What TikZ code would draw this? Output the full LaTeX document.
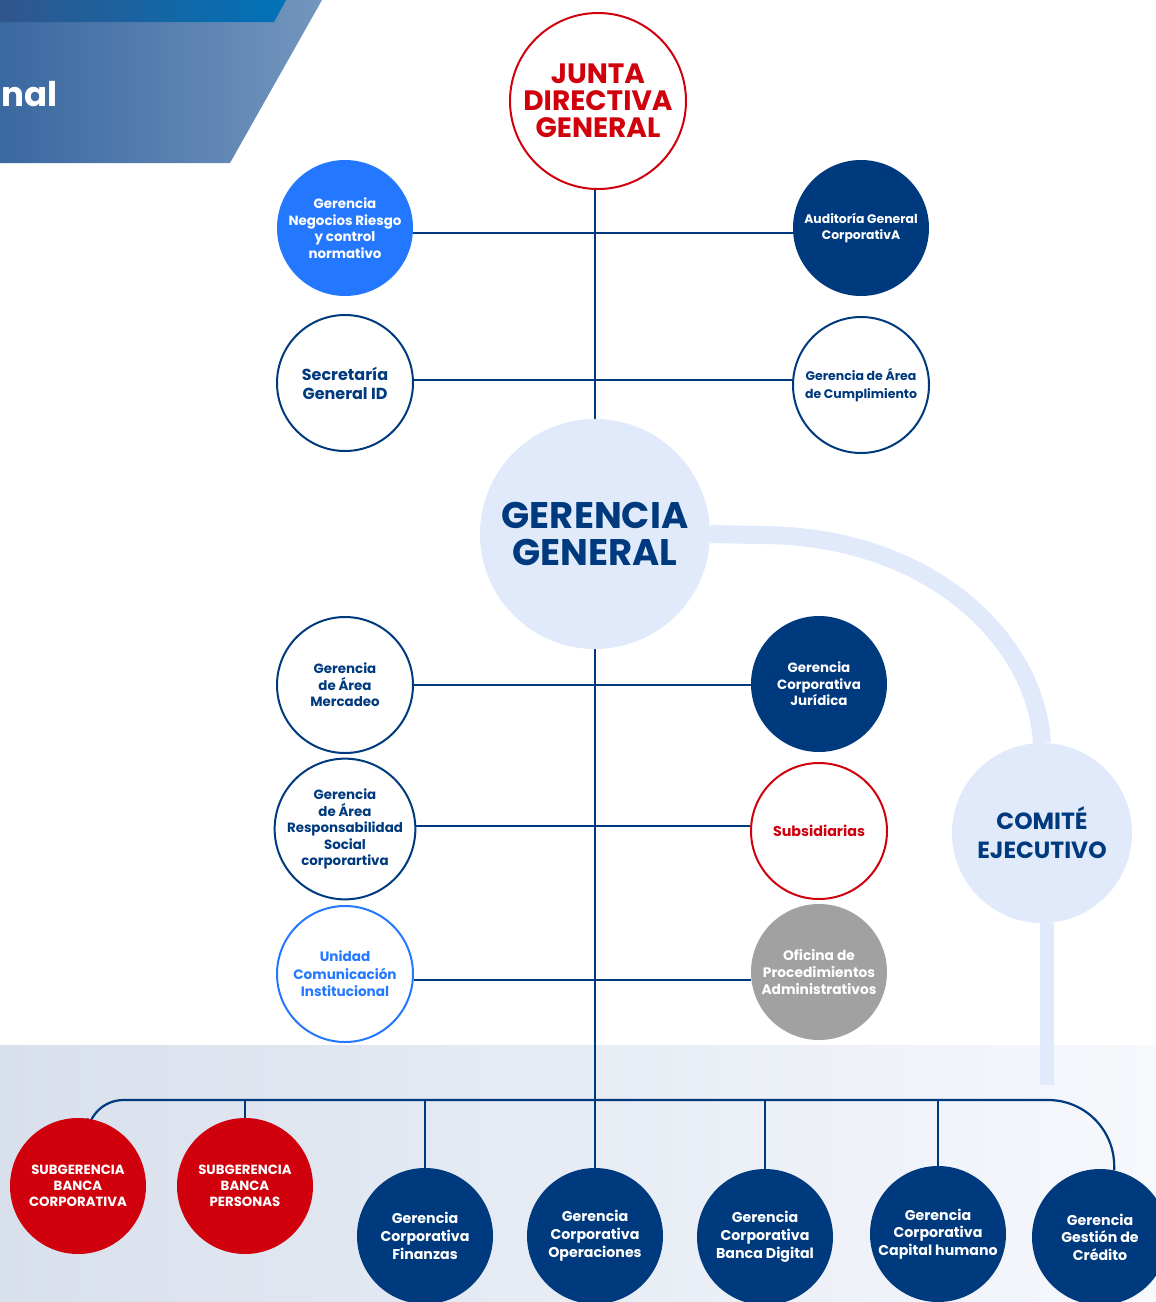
\documentclass[tikz,border=0pt]{standalone}
\usepackage{fontspec}
\setmainfont{Poppins}
\usetikzlibrary{backgrounds}
\definecolor{navy}{HTML}{003A7E}
\definecolor{bblue}{HTML}{2478FF}
\definecolor{cred}{HTML}{D0000D}
\definecolor{lightb}{HTML}{E1EAFB}
\definecolor{cgray}{HTML}{A1A1A1}
\tikzset{
  org/.style={circle, minimum size=136pt, inner sep=0pt, align=center, font=\bfseries\fontsize{13.4}{16.5}\selectfont},
  navyfill/.style={org, fill=navy, text=white},
  navyline/.style={org, draw=navy, line width=2pt, fill=white, text=navy},
  redfill/.style={org, fill=cred, text=white, font=\bfseries\fontsize{13.3}{16}\selectfont},
  bottomfill/.style={navyfill, font=\bfseries\fontsize{14.2}{18}\selectfont},
  conn/.style={draw=navy, line width=2.2pt},
  band/.style={draw=lightb, line width=18pt},
}
\begin{document}
\begin{tikzpicture}[x=1pt,y=-1pt]
\useasboundingbox (0,0) rectangle (1156,1302);
\clip (0,0) rectangle (1156,1302);
% nodes
\node[org, draw=cred, line width=2pt, fill=white, text=cred, minimum size=176pt, font=\bfseries\fontsize{28}{27}\selectfont] (junta) at (598,101) {JUNTA\\DIRECTIVA\\GENERAL};
\node[org, fill=bblue, text=white] (nrc) at (345,228) {Gerencia\\Negocios Riesgo\\y control\\normativo};
\node[navyfill, font=\bfseries\fontsize{12.4}{15.5}\selectfont] (aud) at (861,228) {Auditoría General\\CorporativA};
\node[navyline, font=\bfseries\fontsize{16}{19}\selectfont] (sec) at (345,383) {Secretaría\\General ID};
\node[navyline, font=\bfseries\fontsize{12.5}{17.5}\selectfont] (cum) at (861,385) {Gerencia de Área\\de Cumplimiento};
\node[org, fill=lightb, text=navy, minimum size=230pt, font=\bfseries\fontsize{37}{37}\selectfont] (gg) at (595,534) {GERENCIA\\GENERAL};
\node[org, fill=lightb, text=navy, minimum size=180pt, font=\bfseries\fontsize{23.4}{29}\selectfont] (com) at (1042,833) {COMITÉ\\EJECUTIVO};
\node[navyline] (mer) at (345,685) {Gerencia\\de Área\\Mercadeo};
\node[navyfill] (jur) at (819,684) {Gerencia\\Corporativa\\Jurídica};
\node[navyline] (rsc) at (345,829) {Gerencia\\de Área\\Responsabilidad\\Social\\corporartiva};
\node[org, draw=cred, line width=2pt, fill=white, text=cred, font=\bfseries\fontsize{14.3}{17}\selectfont] (sub) at (819,831) {Subsidiarias};
\node[org, draw=bblue, line width=2pt, fill=white, text=bblue, font=\bfseries\fontsize{13.6}{17.5}\selectfont] (uci) at (345,974) {Unidad\\Comunicación\\Institucional};
\node[org, fill=cgray, text=white, font=\bfseries\fontsize{13.8}{17}\selectfont] (opa) at (819,972) {Oficina de\\Procedimientos\\Administrativos};
\node[redfill] (sbc) at (78,1186) {SUBGERENCIA\\BANCA\\CORPORATIVA};
\node[redfill] (sbp) at (245,1186) {SUBGERENCIA\\BANCA\\PERSONAS};
\node[bottomfill] (fin) at (425,1236) {Gerencia\\Corporativa\\Finanzas};
\node[bottomfill] (ope) at (595,1236) {Gerencia\\Corporativa\\Operaciones};
\node[bottomfill] (dig) at (765,1237) {Gerencia\\Corporativa\\Banca Digital};
\node[bottomfill, font=\bfseries\fontsize{14.2}{17.5}\selectfont] (cap) at (938,1234) {Gerencia\\Corporativa\\Capital humano};
\node[bottomfill, font=\bfseries\fontsize{14.2}{17.5}\selectfont] (cre) at (1100,1237) {Gerencia\\Gestión de\\Crédito};
\node[text=white, anchor=base east, inner sep=0pt, font=\bfseries\fontsize{34}{34}\selectfont] (ttl) at (58,106) {nal};
\coordinate (busl) at (300,1100);
\coordinate (combot) at (1047,1085);
\begin{scope}[on background layer]
  % bottom band
  \shade[left color={rgb,255:red,216;green,224;blue,236}, right color={rgb,255:red,246;green,248;blue,252}] (0,1045) rectangle (1156,1302);
  % banner
  \shade[left color={rgb,255:red,58;green,104;blue,160}, right color={rgb,255:red,115;green,150;blue,190}] (0,0) -- (322,0) -- (230,163) -- (0,163) -- cycle;
  \shade[left color={rgb,255:red,48;green,86;blue,140}, right color={rgb,255:red,0;green,114;blue,184}] (0,0) -- (286,0) -- (274,22) -- (0,22) -- cycle;
  % comite band
  \draw[band] (gg.east) -- (760,535) .. controls (930,535) and (1036,640) .. (com.north);
  \draw[band, line width=14pt] (combot |- com.south) -- (combot);
  % connectors
  \draw[conn] (gg.north |- junta.south) -- (gg.north);
  \draw[conn] (nrc.east |- 0,233) -- (aud.west |- 0,233);
  \draw[conn] (sec.east |- 0,380) -- (cum.west |- 0,380);
  \draw[conn] (gg.south) -- (ope.north);
  \draw[conn] (mer.east) -- (jur.west |- mer.east);
  \draw[conn] (rsc.east |- 0,826) -- (sub.west |- 0,826);
  \draw[conn] (uci.east |- 0,980) -- (opa.west |- 0,980);
  \draw[conn, rounded corners=36pt] (sbc.82) |- (busl);
  \draw[conn, rounded corners=66pt] (busl) -| (cre.78);
  \draw[conn] (sbp.north) -- (sbp.north |- busl);
  \draw[conn] (fin.north) -- (fin.north |- busl);
  \draw[conn] (dig.north) -- (dig.north |- busl);
  \draw[conn] (cap.north) -- (cap.north |- busl);
\end{scope}
\end{tikzpicture}
\end{document}
